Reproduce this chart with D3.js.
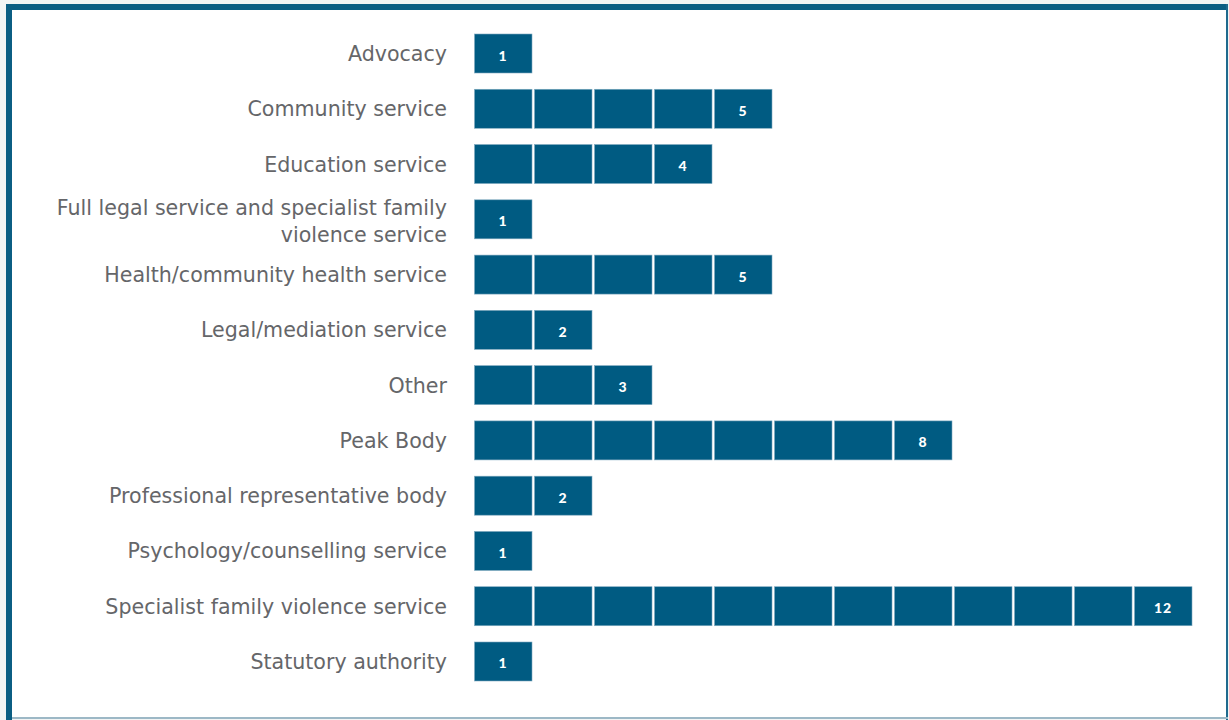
<!DOCTYPE html>
<html><head><meta charset="utf-8">
<script src="https://cdn.jsdelivr.net/npm/d3@7"></script>
<style>html,body{margin:0;padding:0;background:#f2f4f4;}svg{display:block;}</style>
</head><body>
<svg id="c" width="1229" height="720"></svg>
<script>
const categories = [
  "Advocacy",
  "Community service",
  "Education service",
  "Full legal service and specialist family|violence service",
  "Health/community health service",
  "Legal/mediation service",
  "Other",
  "Peak Body",
  "Professional representative body",
  "Psychology/counselling service",
  "Specialist family violence service",
  "Statutory authority"
];
const values = [1, 5, 4, 1, 5, 2, 3, 8, 2, 1, 12, 1];
const xMax = 12;

const svg = d3.select("#c");
const W = 1229, H = 720;
const blue = "#005b82";

// frame
svg.append("rect").attr("x", 0).attr("y", 0).attr("width", W).attr("height", H).attr("fill", "#f2f4f4");
svg.append("rect").attr("x", 7).attr("y", 5).attr("width", 1220).attr("height", 713).attr("fill", "#ffffff");
svg.append("rect").attr("x", 6).attr("y", 4).attr("width", 6).attr("height", 716).attr("fill", "#0b5e83");
svg.append("rect").attr("x", 6).attr("y", 4).attr("width", 1222).attr("height", 6).attr("fill", "#0b5e83");
svg.append("rect").attr("x", 1226).attr("y", 4).attr("width", 2).attr("height", 716).attr("fill", "#1f6a8e");
svg.append("rect").attr("x", 12).attr("y", 717).attr("width", 1216).attr("height", 2).attr("fill", "#9db8c6");

const x = d3.scaleLinear().domain([0, xMax]).range([474, 1194]);
const y = d3.scaleBand().domain(categories).range([34, 681]).paddingInner(0.2944).paddingOuter(0);

const rows = svg.append("g").selectAll("g").data(categories).join("g");

rows.each(function(cat, i) {
  const g = d3.select(this);
  const n = values[i];
  const cells = d3.range(n);
  g.selectAll("rect").data(cells).join("rect")
    .attr("x", d => x(d) + 0.5)
    .attr("y", y(cat))
    .attr("width", d => x(d + 1) - x(d) - 2.5)
    .attr("height", y.bandwidth())
    .attr("fill", blue)
    .attr("stroke", "#7fa9bf")
    .attr("stroke-width", 0.6);
  g.append("text")
    .attr("x", (x(n - 1) + x(n)) / 2 - 1)
    .attr("y", y(cat) + y.bandwidth() / 2 + 7)
    .attr("text-anchor", "middle")
    .attr("fill", "#ffffff")
    .attr("font-family", "Lato, 'Open Sans', sans-serif")
    .attr("font-weight", "900")
    .attr("font-size", "14px")
    .attr("letter-spacing", "0.8px")
    .text(n);
  const lines = cat.split("|");
  const cy = y(cat) + y.bandwidth() / 2;
  const lh = 27;
  const t = g.append("text")
    .attr("text-anchor", "end")
    .attr("fill", "#656669")
    .attr("font-family", "'DejaVu Sans', sans-serif")
    .attr("font-size", "20.6px");
  lines.forEach((l, k) => {
    t.append("tspan")
      .attr("x", 447)
      .attr("y", lines.length > 1 ? cy - 4 + k * lh : cy + 7.5)
      .text(l);
  });
});
</script>
</body></html>
